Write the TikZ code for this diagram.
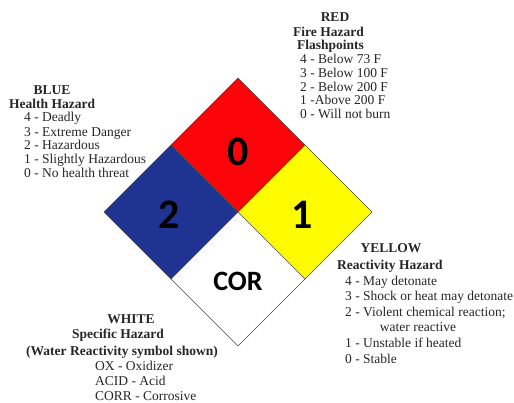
\documentclass[tikz,border=0pt]{standalone}
\usepackage{fontspec}
\setmainfont{Liberation Serif}
\newfontfamily\digitfont{Carlito}
\definecolor{hzblue}{RGB}{31,52,146}
\definecolor{hzred}{RGB}{250,4,10}
\definecolor{hzyellow}{RGB}{255,252,0}
\definecolor{hzedge}{RGB}{70,70,70}
\tikzset{
  txt/.style={inner sep=0pt, anchor=base west, font=\fontsize{13.5}{14}\selectfont, text=black!85},
  hdr/.style={txt, font=\fontsize{13.5}{14}\selectfont\bfseries},
  hdrc/.style={hdr, anchor=base},
  quad/.style={draw=hzedge, line width=0.6pt, line join=miter},
  bignum/.style={inner sep=0pt, font=\digitfont\bfseries\fontsize{42}{42}\selectfont},
  cortxt/.style={inner sep=0pt, font=\digitfont\bfseries\fontsize{28}{28}\selectfont}
}
\begin{document}
\begin{tikzpicture}[x=1pt,y=-1pt]
\useasboundingbox (0,0) rectangle (514,402);
% diamond geometry
\coordinate (T) at (238,78);
\coordinate (L) at (104,212);
\coordinate (R) at (372,212);
\coordinate (B) at (238,346);
\coordinate (C) at (238,212);
\coordinate (TL) at (171,145);
\coordinate (TR) at (305,145);
\coordinate (BL) at (171,279);
\coordinate (BR) at (305,279);
\fill[hzred] (T) -- (TR) -- (C) -- (TL) -- cycle;
\fill[hzblue] (TL) -- (C) -- (BL) -- (L) -- cycle;
\fill[hzyellow] (TR) -- (R) -- (BR) -- (C) -- cycle;
\fill[white] (C) -- (BR) -- (B) -- (BL) -- cycle;
\draw[quad] (T) -- (R) -- (B) -- (L) -- cycle;
\draw[quad] (TL) -- (BR);
\draw[quad] (TR) -- (BL);
% numbers
\node[bignum] (nred) at (238,152) {0};
\node[bignum] (nblue) at (169,215) {2};
\node[bignum] (nyel) at (302,215) {1};
\node[cortxt] (ncor) at (238,281) {COR};
% blue text
\node[hdrc] (b0) at (52,94) {BLUE};
\node[hdr] (b1) at (9,108) {Health Hazard};
\node[txt] (b2) at (24,121) {4 - Deadly};
\node[txt] (b3) at (24,136) {3 - Extreme Danger};
\node[txt] (b4) at (24,149) {2 - Hazardous};
\node[txt] (b5) at (24,163) {1 - Slightly Hazardous};
\node[txt] (b6) at (24,177) {0 - No health threat};
% red text
\node[hdrc] (r0) at (335,21) {RED};
\node[hdr] (r1) at (293,36) {Fire Hazard};
\node[hdr] (r2) at (297,49) {Flashpoints};
\node[txt] (r3) at (300,63) {4 - Below 73 F};
\node[txt] (r4) at (300,77) {3 - Below 100 F};
\node[txt] (r5) at (300,91) {2 - Below 200 F};
\node[txt] (r6) at (300,104) {1 -Above 200 F};
\node[txt] (r7) at (300,118) {0 - Will not burn};
% yellow text
\node[hdrc] (y0) at (391,252) {YELLOW};
\node[hdr] (y1) at (337,269) {Reactivity Hazard};
\node[txt] (y2) at (345,285) {4 - May detonate};
\node[txt] (y3) at (345,300) {3 - Shock or heat may detonate};
\node[txt] (y4) at (345,316) {2 - Violent chemical reaction;};
\node[txt, anchor=base] (y5) at (418,331) {water reactive};
\node[txt] (y6) at (345,347) {1 - Unstable if heated};
\node[txt] (y7) at (345,363) {0 - Stable};
% white text
\node[hdrc] (w0) at (131,323) {WHITE};
\node[hdrc] (w1) at (118,338) {Specific Hazard};
\node[hdrc] (w2) at (122,355) {(Water Reactivity symbol shown)};
\node[txt] (w3) at (95,370) {OX - Oxidizer};
\node[txt] (w4) at (95,385) {ACID - Acid};
\node[txt] (w5) at (95,400) {CORR - Corrosive};
\end{tikzpicture}
\end{document}
